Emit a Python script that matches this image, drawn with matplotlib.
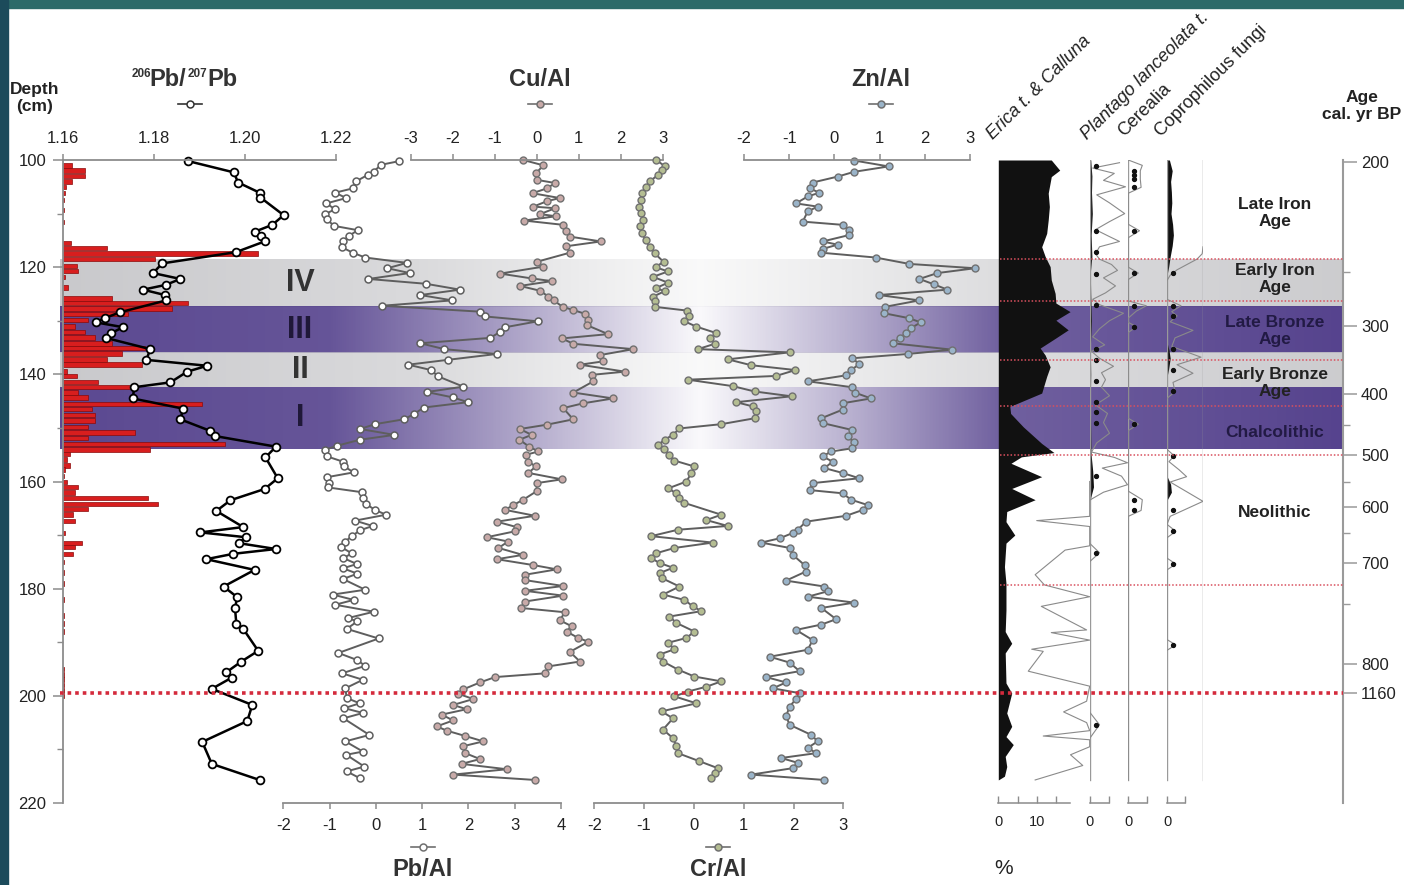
import numpy as np
import matplotlib
matplotlib.use('Agg')
import matplotlib.pyplot as plt
from matplotlib.lines import Line2D
from matplotlib.patches import Rectangle

plt.rcParams['font.family'] = ['Liberation Sans', 'DejaVu Sans']
plt.rcParams['axes.unicode_minus'] = False

# ---- data (depth in cm, value) ----
pb_ratio = np.array([
    [100.2, 1.1875], [102.3, 1.1975], [104.2, 1.1985], [106.1, 1.2032], [107.0, 1.2034],
    [110.3, 1.2085], [112.1, 1.2060], [113.4, 1.2021], [114.2, 1.2036], [115.2, 1.2043],
    [117.2, 1.1980], [119.3, 1.1818], [121.1, 1.1798], [122.2, 1.1858], [123.3, 1.1826],
    [124.2, 1.1776], [125.2, 1.1824], [126.2, 1.1827], [128.4, 1.1726], [129.5, 1.1692],
    [130.3, 1.1672], [131.2, 1.1732], [132.3, 1.1706], [133.2, 1.1694], [135.3, 1.1792],
    [137.3, 1.1783], [138.4, 1.1917], [139.5, 1.1873], [141.5, 1.1836], [142.4, 1.1757],
    [144.5, 1.1753], [146.4, 1.1864], [148.4, 1.1858], [150.5, 1.1922], [151.5, 1.1933],
    [153.5, 1.2068], [155.5, 1.2045], [159.4, 1.2072], [161.4, 1.2043], [163.5, 1.1968],
    [165.5, 1.1937], [168.5, 1.1996], [169.5, 1.1902], [170.4, 1.2002], [171.5, 1.1986],
    [172.6, 1.2068], [173.5, 1.1974], [174.5, 1.1915], [176.5, 1.2021], [179.6, 1.1953],
    [181.6, 1.1983], [183.6, 1.1978], [186.6, 1.1981], [187.5, 1.1996], [191.6, 1.2029],
    [193.6, 1.1992], [195.6, 1.1959], [196.6, 1.1971], [198.7, 1.1927], [201.7, 1.2016],
    [204.7, 1.2005], [208.6, 1.1906], [212.7, 1.1927], [215.7, 1.2032]])

red_bars = np.array([
    [101, 3.3], [102, 8.1], [103, 8.1], [104, 3.3], [105, 1.1], [106.2, 0.7], [107.5, 0.4],
    [109.3, 0.4], [111.6, 0.4], [115.5, 2.9], [116.4, 16.1], [117.4, 71.4], [118.5, 33.7],
    [119.8, 5.0], [120.7, 5.6], [121.8, 0.7], [123.8, 1.9], [125.8, 17.8], [126.7, 45.9],
    [127.7, 39.8], [128.7, 23.9], [129.9, 9.2], [131.1, 4.3], [132.1, 8.0], [133.1, 11.7],
    [134.2, 17.8], [135.1, 30.0], [136.1, 21.5], [137.2, 16.0], [138.2, 28.8], [139.5, 1.3],
    [140.3, 5.0], [141.4, 13.0], [142.4, 24.5], [143.4, 5.6], [144.3, 9.3], [145.5, 50.8],
    [146.5, 10.5], [147.6, 11.7], [148.6, 11.7], [149.8, 9.3], [150.9, 26.4], [151.9, 9.3],
    [153.0, 59.3], [154.0, 31.9], [154.9, 2.6], [155.9, 1.3], [157.0, 2.6], [157.8, 0.7],
    [159.0, 0.4], [160.1, 1.5], [161.0, 5.5], [162.1, 4.4], [163.1, 31.1], [164.2, 34.8],
    [165.1, 9.2], [166.2, 3.7], [167.4, 4.4], [169.6, 0.7], [171.5, 7.0], [172.2, 4.4],
    [173.5, 3.7], [175, 0.4], [177, 0.4], [179, 0.4], [182, 0.4], [185, 0.4], [186.5, 0.4],
    [188, 0.4], [195, 0.4], [196, 0.4], [197, 0.4], [198, 0.4], [199, 0.4], [200, 0.4]])

pb_al = np.array([
    [100.2, 0.51], [100.9, 0.11], [102.2, -0.05], [102.8, -0.18], [104.0, -0.43], [105.3, -0.50],
    [106.1, -0.88], [107.1, -0.64], [108.1, -1.07], [109.2, -0.88], [110.1, -1.10], [111.1, -1.06],
    [112.3, -0.90], [113.1, -0.39], [114.2, -0.59], [115.2, -0.71], [116.3, -0.73], [117.3, -0.50],
    [118.2, -0.23], [119.2, 0.67], [120.2, 0.25], [121.1, 0.73], [122.2, -0.16], [123.1, 1.08],
    [124.2, 1.82], [125.2, 0.96], [126.2, 1.65], [127.2, 0.13], [128.3, 2.24], [129.2, 2.36],
    [130.1, 3.50], [131.2, 2.80], [132.1, 2.68], [133.2, 2.47], [134.2, 0.96], [135.3, 1.48],
    [136.2, 2.61], [137.3, 1.55], [138.2, 0.70], [139.2, 1.19], [140.4, 1.35], [142.3, 1.89],
    [143.3, 1.10], [144.3, 1.66], [145.2, 1.99], [146.2, 1.03], [147.4, 0.83], [148.4, 0.60],
    [149.3, -0.02], [150.2, -0.34], [151.3, 0.40], [152.2, -0.34], [153.3, -0.83], [154.1, -1.10],
    [155.3, -1.06], [156.3, -0.71], [157.2, -0.68], [158.3, -0.48], [159.2, -1.06], [160.2, -1.02],
    [161.1, -1.04], [162.0, -0.30], [163.1, -0.28], [164.2, -0.21], [165.3, -0.02], [166.2, 0.22],
    [167.3, -0.45], [168.3, -0.07], [169.1, -0.34], [170.2, -0.52], [171.2, -0.66], [172.2, -0.76],
    [173.4, -0.52], [174.3, -0.70], [175.4, -0.41], [176.2, -0.71], [177.2, -0.40], [178.2, -0.71],
    [180.2, -0.23], [181.1, -0.93], [182.1, -0.48], [183.0, -0.88], [184.3, -0.04], [185.5, -0.61],
    [186.1, -0.40], [187.5, -0.63], [189.3, 0.06], [192.0, -0.81], [193.3, -0.41], [194.4, -0.23],
    [195.8, -0.73], [197.0, -0.28], [198.6, -0.66], [200.4, -0.63], [201.4, -0.35], [202.3, -0.68],
    [203.2, -0.28], [204.2, -0.70], [207.3, -0.14], [208.5, -0.66], [210.4, -0.28], [211.0, -0.64],
    [213.2, -0.25], [214.1, -0.63], [215.4, -0.34]])

cu_al = np.array([
    [100.0, -0.32], [101.0, 0.16], [102.5, -0.02], [103.7, 0.00], [104.3, 0.44], [105.3, 0.24],
    [106.2, -0.10], [107.1, 0.55], [107.7, 0.24], [108.7, -0.08], [109.0, 0.44], [110.1, 0.08],
    [110.5, 0.46], [111.3, -0.30], [112.1, 0.63], [113.2, 0.70], [114.3, 0.79], [115.2, 1.53],
    [116.1, 0.70], [117.3, 0.79], [119.0, 0.00], [119.9, 0.16], [121.2, -0.87], [122.1, -0.12],
    [122.6, 0.36], [123.5, -0.40], [124.4, 0.08], [125.5, 0.28], [126.2, 0.40], [127.4, 0.62],
    [128.0, 0.87], [128.7, 1.15], [129.9, 1.23], [130.8, 1.19], [132.5, 1.70], [133.3, 0.60],
    [134.3, 0.87], [135.3, 2.30], [136.4, 1.51], [137.6, 1.57], [138.2, 1.03], [139.5, 2.10],
    [140.1, 1.31], [141.3, 1.35], [143.4, 0.87], [144.5, 1.82], [145.4, 1.11], [146.3, 0.63],
    [148.4, 0.87], [149.4, 0.24], [150.2, -0.40], [151.3, -0.12], [152.2, -0.41], [153.5, -0.18],
    [154.4, 0.04], [155.0, -0.25], [156.3, -0.20], [157.2, -0.02], [158.4, -0.20], [159.6, 0.60],
    [160.3, 0.00], [161.8, 0.00], [163.4, -0.32], [164.4, -0.56], [165.3, -0.75], [166.4, -0.04],
    [167.5, -0.95], [168.5, -0.48], [169.3, -0.52], [170.4, -1.19], [171.2, -0.68], [172.4, -0.91],
    [173.7, -0.33], [174.5, -0.95], [175.6, -0.08], [176.4, 0.48], [177.4, -0.28], [178.4, -0.28],
    [179.5, 0.63], [180.4, -0.28], [181.3, 0.63], [182.4, -0.28], [183.6, -0.38], [184.4, 0.67],
    [185.9, 0.55], [187.0, 0.83], [188.0, 0.71], [189.2, 0.99], [189.9, 1.23], [191.8, 0.79],
    [193.6, 1.03], [194.5, 0.28], [195.8, 0.20], [196.5, -0.99], [197.5, -1.35], [198.8, -1.75],
    [199.6, -1.87], [200.6, -1.51], [201.7, -1.99], [202.5, -1.67], [203.5, -2.26], [204.6, -1.99],
    [205.7, -2.38], [206.5, -2.14], [207.5, -1.70], [208.5, -1.27], [209.4, -1.75], [210.7, -1.70],
    [211.8, -1.35], [212.7, -1.79], [213.7, -0.71], [214.7, -1.99], [215.7, -0.04]])

cr_al = np.array([
    [100.0, -0.76], [101.1, -0.59], [101.9, -0.65], [102.8, -0.72], [104.0, -0.89], [105.0, -0.96],
    [106.2, -1.04], [107.5, -1.06], [108.7, -1.10], [109.9, -1.06], [111.2, -1.02], [112.4, -1.09],
    [113.7, -1.04], [114.9, -0.97], [116.2, -0.89], [117.4, -0.79], [119.0, -0.61], [120.0, -0.77],
    [120.8, -0.52], [121.8, -0.82], [122.9, -0.52], [123.9, -0.76], [124.5, -0.59], [125.5, -0.82],
    [126.4, -0.79], [127.4, -0.79], [128.1, -0.14], [129.1, -0.09], [130.1, -0.19], [131.1, 0.05],
    [132.3, 0.45], [133.3, 0.32], [134.3, 0.42], [135.3, 0.08], [135.9, 1.92], [137.2, 0.68],
    [138.3, 1.15], [139.2, 2.04], [140.3, 1.65], [141.0, -0.12], [142.2, 0.78], [143.2, 1.22],
    [144.1, 1.96], [145.2, 0.85], [146.0, 1.19], [146.9, 1.25], [148.2, 1.22], [149.3, 0.55],
    [150.1, -0.29], [151.3, -0.42], [152.2, -0.59], [153.2, -0.72], [154.0, -0.60], [155.0, -0.49],
    [156.1, -0.39], [157.2, 0.01], [158.4, -0.05], [160.0, -0.15], [161.3, -0.52], [162.2, -0.35],
    [163.1, -0.29], [164.0, -0.19], [166.2, 0.55], [167.2, 0.25], [168.3, 0.68], [169.0, -0.32],
    [170.2, -0.86], [171.4, 0.38], [172.4, -0.39], [173.4, -0.76], [174.3, -0.86], [175.2, -0.69],
    [176.1, -0.42], [177.1, -0.69], [178.0, -0.65], [179.6, -0.29], [181.1, -0.62], [182.1, -0.19],
    [183.3, -0.02], [184.2, 0.15], [185.2, -0.49], [186.4, -0.35], [188.0, 0.01], [189.2, -0.15],
    [190.1, -0.52], [191.3, -0.39], [192.3, -0.69], [193.6, -0.62], [195.1, -0.32], [196.4, 0.01],
    [197.3, 0.55], [198.3, 0.25], [199.2, -0.12], [200.1, -0.39], [201.4, 0.05], [202.9, -0.65],
    [204.2, -0.42], [206.3, -0.62], [207.9, -0.42], [209.4, -0.35], [210.7, -0.32], [212.2, 0.11],
    [213.5, 0.48], [214.4, 0.42], [215.4, 0.35]])

zn_al = np.array([
    [100.1, 0.44], [101.2, 1.20], [102.2, 0.44], [103.1, 0.07], [104.2, -0.48], [105.3, -0.55],
    [106.1, -0.33], [106.8, -0.59], [108.1, -0.85], [108.7, -0.37], [109.6, -0.59], [111.5, -0.70],
    [112.1, 0.18], [113.1, 0.33], [114.0, 0.33], [115.2, -0.26], [115.8, 0.07], [116.6, -0.26],
    [117.3, -0.29], [118.2, 0.91], [119.4, 1.66], [120.2, 3.11], [121.1, 2.28], [122.2, 1.88],
    [123.2, 2.20], [124.2, 2.50], [125.2, 0.98], [126.2, 1.88], [127.4, 1.12], [128.6, 1.10],
    [129.5, 1.64], [130.3, 1.91], [131.4, 1.69], [132.3, 1.58], [133.3, 1.45], [134.2, 1.29],
    [135.4, 2.61], [136.2, 1.62], [137.0, 0.40], [138.1, 0.55], [139.2, 0.37], [140.2, 0.25],
    [141.3, -0.59], [142.4, 0.39], [143.4, 0.45], [144.5, 0.81], [145.4, 0.18], [146.6, 0.18],
    [148.2, -0.29], [149.1, -0.26], [150.4, 0.40], [151.6, 0.29], [152.7, 0.44], [153.8, 0.40],
    [154.4, -0.07], [155.3, -0.26], [156.3, -0.04], [157.5, -0.22], [158.4, 0.18], [159.4, 0.55],
    [160.3, -0.48], [161.6, -0.55], [162.2, 0.18], [163.4, 0.37], [164.4, 0.74], [165.3, 0.63],
    [166.4, 0.26], [167.5, -0.63], [169.0, -0.81], [169.6, -0.92], [170.6, -1.21], [171.4, -1.62],
    [172.4, -0.99], [173.7, -0.92], [175.6, -0.66], [176.8, -0.63], [178.5, -1.07], [179.6, -0.22],
    [180.5, -0.15], [181.5, -0.59], [182.6, 0.44], [183.6, -0.29], [185.7, 0.04], [186.7, -0.29],
    [187.7, -0.85], [189.6, -0.48], [191.4, -0.59], [192.7, -1.43], [193.8, -0.99], [195.4, -0.77],
    [196.5, -1.51], [197.5, -1.07], [198.6, -1.36], [199.5, -0.77], [200.6, -0.85], [202.0, -0.99],
    [203.8, -1.07], [205.4, -0.99], [207.3, -0.51], [208.5, -0.37], [209.7, -0.59], [210.7, -0.40],
    [211.6, -1.18], [212.5, -0.81], [213.5, -0.92], [214.7, -1.84], [215.7, -0.22]])

# pollen (%)
erica = np.array([
    [100, 13.8], [101.9, 16.0], [103.1, 13.8], [106.2, 13.0], [108.7, 13.3], [111.2, 13.0],
    [113.7, 12.6], [116.2, 11.3], [118.0, 12.2], [119.9, 13.5], [122.4, 13.8], [124.9, 14.8],
    [126.7, 15.0], [128.3, 18.7], [129.9, 15.0], [131.7, 18.2], [133.3, 14.8], [135.1, 10.9],
    [136.4, 12.2], [138.6, 13.5], [140.4, 12.6], [143.5, 11.3], [146.0, 3.0], [147.3, 3.2],
    [149.8, 6.5], [152.9, 11.3], [154.6, 14.5], [155.4, 6.0], [156.6, 3.3], [159.1, 11.3],
    [161.3, 3.5], [163.4, 9.6], [165.6, 2.2], [167.5, 2.0], [170.0, 4.3], [171.5, 2.0],
    [175.9, 1.6], [179.0, 2.0], [184.0, 2.0], [188.0, 1.8], [190.2, 3.5], [192.0, 1.8],
    [197.6, 2.0], [199.5, 3.5], [203.2, 2.2], [205.7, 3.5], [207.6, 2.0], [209.1, 3.9],
    [211.3, 1.8], [213.2, 2.2], [215.0, 1.6], [215.7, 0]])
erica_exag = np.array([
    [160, 23.8], [166.5, 23.8], [167.3, 10], [168.4, 23.8], [172.0, 23.8], [172.8, 17.4],
    [177.4, 9.6], [179.3, 12], [181.5, 23.8], [183.3, 11.2], [187.7, 23], [188.2, 13.8],
    [189.6, 23.8], [191.3, 8.7], [191.7, 11.7], [195.4, 7.8], [198.2, 23.8], [201.0, 23],
    [203.0, 17], [205.0, 23], [206.5, 23.8], [207.5, 11.7], [208.2, 23.8], [209.5, 23.8],
    [211.0, 18.8], [213.0, 22], [215.7, 9.6]])

plantago = np.array([
    [100, 0.3], [103, 0.6], [106, 0.5], [110, 0.7], [114, 0.4], [118, 0.6], [121, 0.2],
    [125, 0.3], [130, 0.5], [135, 0.2], [140, 0.3], [145, 0.2], [150, 0.3], [155, 0.4],
    [158, 0.8], [161, 1.0], [163, 0.3], [166, 0], [215.7, 0]])
plantago_exag = np.array([
    [100.5, 7.5], [101.5, 0.8], [102.5, 6.2], [103.8, 3.5], [105, 9], [106.5, 1.8], [108, 5],
    [110, 8.8], [111.5, 5], [113, 1.5], [114.3, 5], [115.2, 7.5], [116.2, 2.5], [117.5, 1.5],
    [118.5, 2.5], [119.5, 5.5], [120.6, 7], [122, 3.5], [123.5, 6.5], [124.8, 4], [126, 0.8],
    [127, 2.5], [128.6, 8.5], [130, 5], [131.5, 2.5], [133, 0.8], [134.5, 3.8], [135.7, 0.5],
    [137, 2.5], [138.5, 6], [139.7, 3], [141, 4], [142.4, 3], [144, 5], [145.7, 1.5],
    [147.3, 4.5], [149, 3.5], [151, 5], [152.8, 1.8], [154.5, 0.5], [155.5, 6.2], [156.5, 9.5],
    [157.5, 3.2], [159, 8], [160.6, 9.5], [162, 3.5], [163.5, 0], [171.5, 0], [173.3, 2.5],
    [175, 0], [203, 0], [205.4, 2.5], [208, 0], [215.7, 0]])
plantago_dots = [101.1, 113.2, 117.1, 121.2, 127.1, 135.2, 137.3, 141.2, 145.1, 147.1, 149.1,
                 159.0, 173.3, 205.4]

cerealia_exag = np.array([
    [100, 0], [101, 3.5], [102, 3.0], [103.6, 3.0], [105.1, 3.2], [106.2, 0], [112, 0],
    [113.2, 2.8], [114.5, 0], [120, 0], [121.1, 2.5], [122.3, 0], [126.3, 0], [127.2, 4.5],
    [128.2, 2], [129.5, 0], [130.3, 0], [131.1, 2], [132.2, 0], [148.2, 0], [149.3, 2.5],
    [150.5, 0], [161.8, 0], [163.4, 3.5], [165.4, 3.2], [166.5, 0], [215.7, 0]])
cerealia_dots = [102.0, 102.8, 103.6, 105.1, 113.2, 121.1, 127.2, 131.1, 149.3, 163.4, 165.4]

copro = np.array([
    [100, 0.6], [102, 1.3], [104, 0.9], [106, 1.1], [108, 1.2], [110, 1.0], [112, 1.4],
    [114, 1.6], [116, 1.3], [118, 0.8], [120, 0.4], [121.5, 0], [134, 0], [135.5, 0.5],
    [137, 0.8], [139, 0.4], [140.5, 0], [159, 0], [160.5, 0.9], [162, 1.1], [163.5, 0],
    [215.7, 0]])
copro_exag = np.array([
    [116.2, 9.0], [117.5, 8.8], [118.5, 7.5], [119.5, 5], [120.5, 2.5], [121.5, 0.8],
    [122.5, 0], [126, 0], [127.2, 3.5], [128.3, 1.2], [129.1, 2.5], [130.2, 0.8], [131.8, 6.5],
    [133.2, 2], [134.8, 1.2], [136.8, 8.5], [138.2, 2.5], [139.8, 6.5], [141.5, 1.5],
    [143.2, 2], [144.5, 0], [154, 0], [155.2, 1.8], [156.3, 0.5], [157.8, 3], [159.1, 4.9],
    [160.1, 0.8], [163.7, 9.0], [166.5, 0.8], [168, 0], [169.3, 2.2], [170.5, 0], [174.3, 0],
    [175.4, 2.2], [176.5, 0], [189.5, 0], [190.5, 2.2], [191.5, 0]])
copro_dots = [121.1, 127.2, 129.1, 135.2, 139.2, 143.2, 155.2, 165.4, 169.3, 175.4, 190.5]

zone_names = ['IV', 'III', 'II', 'I']
zone_top = [118.5, 127.4, 136.0, 142.4]
zone_bottom = [127.4, 136.0, 142.4, 153.9]
zone_kind = ['gray', 'purple', 'gray', 'purple']

period_names = ['Late Iron\nAge', 'Early Iron\nAge', 'Late Bronze\nAge',
                'Early Bronze\nAge', 'Chalcolithic', 'Neolithic']
period_depth = [109.9, 122.2, 131.9, 141.6, 150.9, 165.7]
pollen_zone_lines = [118.5, 126.4, 137.4, 145.9, 155.0, 179.3]
hiatus_depth = 199.5

age_labels = ['200', '300', '400', '500', '600', '700', '800', '1160']
age_label_depth = [100.3, 130.9, 143.7, 155.0, 164.7, 175.2, 194.1, 199.5]
age_minor_depth = [120.9, 149.4, 160.1, 169.6, 182.8]

# ---- layout helpers (pixel positions) ----
W, H = 1404, 885
Y0, Y1 = 160, 803
fig = plt.figure(figsize=(W / 100, H / 100), dpi=100)
fig.patch.set_facecolor('white')
fig.patches.append(Rectangle((0, 1 - 8 / H), 1, 8 / H, transform=fig.transFigure,
                             color='#2c6a69', zorder=0))
fig.patches.append(Rectangle((0, 0), 8 / W, 1, transform=fig.transFigure,
                             color='#1c4b5b', zorder=0))

AX = '#8c8c8c'
TXT = '#222222'
TICK_FS = 12


def rect(x0, x1):
    return [x0 / W, 1 - Y1 / H, (x1 - x0) / W, (Y1 - Y0) / H]


def depth_axes(x0, x1, xlim, spine=None, z=3):
    ax = fig.add_axes(rect(x0, x1), facecolor='none', zorder=z)
    ax.set_xlim(*xlim)
    ax.set_ylim(220, 100)
    for s in ax.spines.values():
        s.set_visible(False)
    ax.set_yticks([])
    if spine is None:
        ax.set_xticks([])
    else:
        ax.spines[spine].set_visible(True)
        ax.spines[spine].set_color(AX)
        ax.spines[spine].set_linewidth(1.3)
        if spine == 'top':
            ax.xaxis.tick_top()
        ax.tick_params(axis='x', direction='out', length=4, width=1.1, color=AX,
                       labelsize=TICK_FS, labelcolor=TXT, pad=6 if spine == 'top' else 7)
    return ax


# background zones
ax_bg = fig.add_axes(rect(0, W), zorder=0)
ax_bg.axis('off')
xs = np.linspace(60, 1343, 800)
for name, top, bot, kind in zip(zone_names, zone_top, zone_bottom, zone_kind):
    if kind == 'purple':
        a = np.interp(xs, [60, 330, 520, 700, 860, 1000, 1343], [0.92, 0.86, 0.45, 0.03, 0.42, 0.8, 0.95])
        base = (0.30, 0.22, 0.53)
        col = '#1f1838'
    else:
        a = np.interp(xs, [60, 420, 700, 1000, 1343], [0.95, 0.65, 0.1, 0.6, 0.9])
        base = (0.78, 0.78, 0.79)
        col = '#333333'
    img = np.zeros((1, len(xs), 4))
    img[..., :3] = base
    img[..., 3] = a
    ax_bg.imshow(img, extent=[60, 1343, bot, top], aspect='auto', interpolation='bilinear')
    ax_bg.text(300, (top + bot) / 2, name, ha='center', va='center', fontsize=22,
               fontweight='bold', color=col, family=['Liberation Sans Narrow', 'Liberation Sans'])
ax_bg.set_xlim(0, W)
ax_bg.set_ylim(220, 100)

for name, d in zip(period_names, period_depth):
    purple = name.startswith('Late Bronze') or name == 'Chalcolithic'
    ax_bg.text(1275, d, name, ha='center', va='center', fontsize=12.5, fontweight='bold',
               color='#221a44' if purple else TXT, linespacing=1.15)

# red bars behind 206/207 ratio
ax_bar = depth_axes(63, 336, (0, 100), z=2)
ax_bar.barh(red_bars[:, 0], red_bars[:, 1], height=0.85, color='#d81e1e',
            edgecolor='#8a0a0a', linewidth=0.5)

# 206Pb/207Pb with depth axis
ax_pb = depth_axes(63, 336, (1.16, 1.22), 'top', z=4)
ax_pb.set_xticks([1.16, 1.18, 1.20, 1.22], ['1.16', '1.18', '1.20', '1.22'])
ax_pb.spines['left'].set_visible(True)
ax_pb.spines['left'].set_color(AX)
ax_pb.spines['left'].set_linewidth(1.3)
ax_pb.set_yticks(np.arange(100, 221, 20))
ax_pb.set_yticks(np.arange(110, 220, 20), minor=True)
ax_pb.tick_params(axis='y', which='major', direction='out', length=7, width=1.1, color=AX,
                  labelsize=TICK_FS, labelcolor=TXT, pad=5)
ax_pb.tick_params(axis='y', which='minor', direction='out', length=4, width=1.0, color=AX)
ax_pb.plot(pb_ratio[:, 1], pb_ratio[:, 0], color='black', lw=1.8, marker='o', ms=5.6,
           mfc='white', mec='black', mew=1.3, clip_on=False)

# element / Al ratios
ax_pbal = depth_axes(283.3, 561, (-2, 4), 'bottom', z=5)
ax_pbal.set_xticks(range(-2, 5))
ax_pbal.plot(pb_al[:, 1], pb_al[:, 0], color='#5e5e5e', lw=1.4, marker='o', ms=5,
             mfc='white', mec='#5e5e5e', mew=1.1, clip_on=False)

ax_cu = depth_axes(410.7, 662.7, (-3, 3), 'top', z=5)
ax_cu.set_xticks(range(-3, 4))
ax_cu.plot(cu_al[:, 1], cu_al[:, 0], color='#5e5e5e', lw=1.4, marker='o', ms=5,
           mfc='#c8aaa8', mec='#707070', mew=1.0, clip_on=False)

ax_cr = depth_axes(594.3, 843.3, (-2, 3), 'bottom', z=5)
ax_cr.set_xticks(range(-2, 4))
ax_cr.plot(cr_al[:, 1], cr_al[:, 0], color='#5e5e5e', lw=1.4, marker='o', ms=5,
           mfc='#b4bd92', mec='#707070', mew=1.0, clip_on=False)

ax_zn = depth_axes(744, 970, (-2, 3), 'top', z=5)
ax_zn.set_xticks(range(-2, 4))
ax_zn.plot(zn_al[:, 1], zn_al[:, 0], color='#5e5e5e', lw=1.4, marker='o', ms=5,
           mfc='#9ab4c9', mec='#707070', mew=1.0, clip_on=False)


# pollen
def bracket(ax, end, ticks, labels):
    ax.spines['bottom'].set_visible(True)
    ax.spines['bottom'].set_bounds(0, end)
    ax.spines['bottom'].set_color(AX)
    ax.spines['bottom'].set_linewidth(1.1)
    ax.set_xticks(ticks, labels)
    ax.tick_params(axis='x', direction='in', length=5, width=1.0, color=AX,
                   labelsize=10.5, labelcolor=TXT, pad=9)


ax_er = depth_axes(998.3, 1090, (0, 23.88), z=4)
ax_er.fill_betweenx(erica[:, 0], 0, erica[:, 1], color='#111111', lw=0)
ax_er.plot(erica_exag[:, 1], erica_exag[:, 0], color='#8a8a8a', lw=0.8)
bracket(ax_er, 18.75, [0, 5, 10, 15], ['0', '', '10', ''])

ax_pl = depth_axes(1089.5, 1128.3, (0, 9.7), z=4)
ax_pl.axvline(0, ymin=(220 - 215.7) / 120, ymax=1, color='#9a9a9a', lw=1)
ax_pl.fill_betweenx(plantago[:, 0], 0, plantago[:, 1], color='#111111', lw=0)
ax_pl.plot(plantago_exag[:, 1], plantago_exag[:, 0], color='#8a8a8a', lw=0.8)
ax_pl.plot([1.55] * len(plantago_dots), plantago_dots, 'o', color='#111111', ms=2.8)
bracket(ax_pl, 4.75, [0, 4.75], ['0', ''])

ax_ce = depth_axes(1128.3, 1167, (0, 9.675), z=4)
ax_ce.axvline(0, ymin=(220 - 215.7) / 120, ymax=1, color='#9a9a9a', lw=1)
ax_ce.plot(cerealia_exag[:, 1], cerealia_exag[:, 0], color='#8a8a8a', lw=0.8)
ax_ce.plot([1.4] * len(cerealia_dots), cerealia_dots, 'o', color='#111111', ms=2.8)
bracket(ax_ce, 4.6, [0, 4.6], ['0', ''])

ax_co = depth_axes(1167, 1203.3, (0, 9.075), z=4)
ax_co.axvline(0, ymin=(220 - 215.7) / 120, ymax=1, color='#9a9a9a', lw=1)
ax_co.axvline(9.075, ymin=(220 - 215.7) / 120, ymax=1, color='#9a9a9a', lw=1)
ax_co.fill_betweenx(copro[:, 0], 0, copro[:, 1], color='#111111', lw=0)
ax_co.plot(copro_exag[:, 1], copro_exag[:, 0], color='#8a8a8a', lw=0.8)
ax_co.plot([1.4] * len(copro_dots), copro_dots, 'o', color='#111111', ms=2.8)
bracket(ax_co, 4.5, [0, 4.5], ['0', ''])

# age axis
ax_age = depth_axes(1300, 1343, (0, 1), z=4)
ax_age.spines['right'].set_visible(True)
ax_age.spines['right'].set_color('#9a9a9a')
ax_age.spines['right'].set_linewidth(1.5)
ax_age.yaxis.tick_right()
ax_age.set_yticks(age_label_depth, age_labels)
ax_age.set_yticks(age_minor_depth, minor=True)
ax_age.tick_params(axis='y', which='major', direction='out', length=10, width=1.1,
                   color='#9a9a9a', labelsize=TICK_FS, labelcolor=TXT, pad=3)
ax_age.tick_params(axis='y', which='minor', direction='out', length=5, width=1.0, color='#9a9a9a')

# dotted lines on top
ax_top = fig.add_axes(rect(0, W), facecolor='none', zorder=8)
ax_top.axis('off')
ax_top.set_xlim(0, W)
ax_top.set_ylim(220, 100)
ax_top.plot([60, 1343], [hiatus_depth] * 2, color='#d42a3c', lw=2.6, ls=(0, (1, 1.1)))
for d in pollen_zone_lines:
    ax_top.plot([1000, 1343], [d, d], color='#d9505e', lw=1.1, ls=(0, (1, 1.3)))


# titles and legend marks
def ftext(x, y, s, **kw):
    fig.text(x / W, 1 - y / H, s, **kw)


def mark(x, y, face, edge):
    fig.add_artist(Line2D([(x - 12) / W, (x + 12) / W], [1 - y / H] * 2, color=edge, lw=1.2,
                          transform=fig.transFigure))
    fig.add_artist(Line2D([x / W], [1 - y / H], marker='o', ms=5, mfc=face, mec=edge,
                          mew=1.1, transform=fig.transFigure))


TITLE = dict(fontsize=17, fontweight='bold', color='#333333', va='center')
ftext(132, 74, '206', fontsize=8.5, fontweight='bold', color='#333333', va='center', ha='left')
ftext(149, 80, 'Pb/', ha='left', **TITLE)
ftext(188, 74, '207', fontsize=8.5, fontweight='bold', color='#333333', va='center', ha='left')
ftext(207, 80, 'Pb', ha='left', **TITLE)
mark(190, 104, 'white', '#333333')
ftext(540, 80, 'Cu/Al', ha='center', **TITLE)
mark(540, 104, '#c8aaa8', '#707070')
ftext(881, 80, 'Zn/Al', ha='center', **TITLE)
mark(881, 104, '#9ab4c9', '#707070')
ftext(423, 869, 'Pb/Al', ha='center', **TITLE)
mark(423, 847, 'white', '#707070')
ftext(718, 869, 'Cr/Al', ha='center', **TITLE)
mark(718, 847, '#b4bd92', '#707070')

ftext(35, 98, 'Depth\n(cm)', ha='center', va='center', fontsize=12.5, fontweight='bold',
      color=TXT, linespacing=1.1)
ftext(1362, 106, 'Age\ncal. yr BP', ha='center', va='center', fontsize=12.5,
      fontweight='bold', color=TXT, linespacing=1.15)
ftext(1004, 868, '%', ha='center', va='center', fontsize=15, color=TXT)

for x, y, s, st in [(993, 140, 'Erica t. & Calluna', 'italic'),
                    (1087, 140, 'Plantago lanceolata t.', 'italic'),
                    (1124, 137, 'Cerealia', 'normal'),
                    (1161, 137, 'Coprophilous fungi', 'normal')]:
    ftext(x, y, s, rotation=45, rotation_mode='anchor', ha='left', va='baseline',
          fontsize=13, style=st, color=TXT)

fig.savefig('out.png', dpi=100)
